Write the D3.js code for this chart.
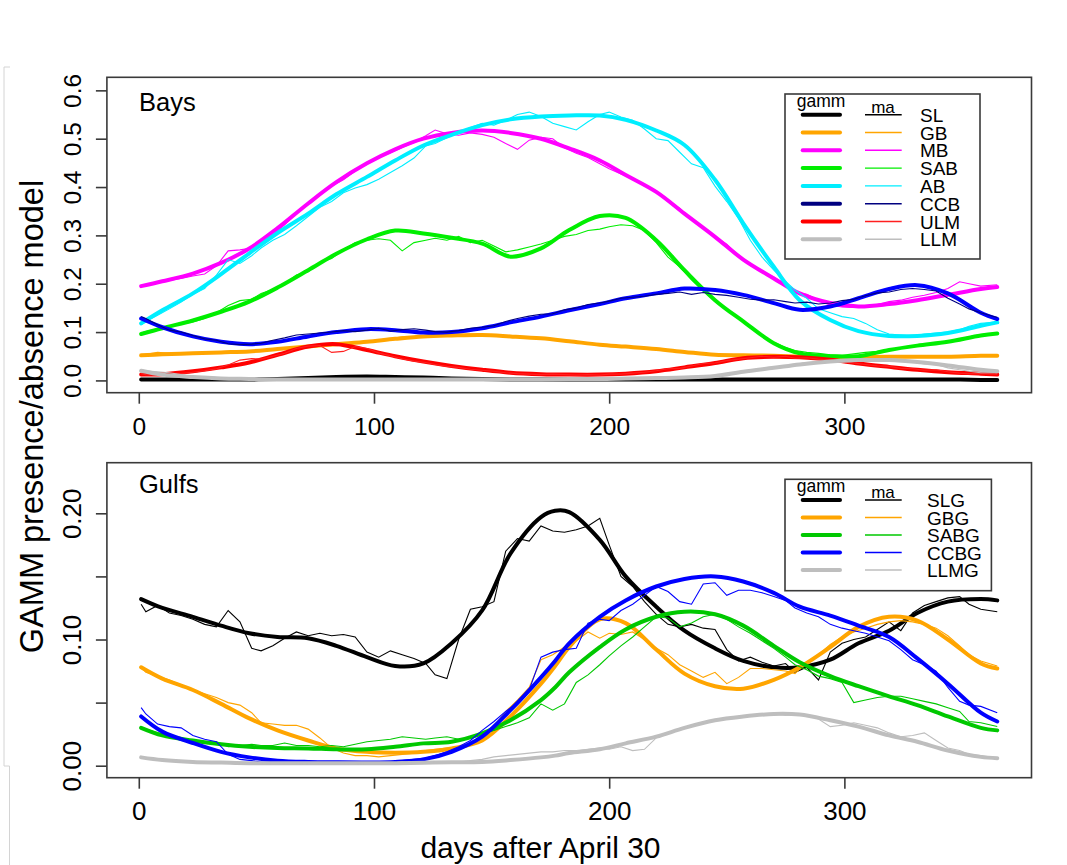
<!DOCTYPE html>
<html>
<head>
<meta charset="utf-8">
<script src="https://d3js.org/d3.v7.min.js"></script>
<style>
  body { margin: 0; background: #fff; }
  svg { display: block; }
  text { font-family: "Liberation Sans", Arial, sans-serif; fill: #000; }
</style>
</head>
<body>
<div id="chart"></div>
<script>
// ---- data: days after April 30 ----
var gDays = [1, 10, 23, 35, 47, 59, 72, 84, 97, 109, 121, 133, 146, 158, 171, 183, 196, 207, 220, 232, 245, 257, 270, 281, 294, 306, 319, 331, 344, 358, 365];
var gDaysG = [1, 10, 23, 35, 47, 59, 72, 84, 97, 109, 121, 133, 146, 158, 171, 177, 183, 196, 207, 220, 232, 245, 257, 270, 281, 294, 306, 319, 331, 344, 358, 365];
var maDays = [1, 3, 8, 13, 18, 23, 28, 33, 38, 43,
  48, 52, 57, 62, 67, 72, 77, 82, 87, 92,
  97, 102, 107, 112, 117, 122, 126, 131, 136, 141,
  146, 151, 156, 161, 166, 171, 176, 181, 186, 191,
  196, 200, 205, 210, 215, 220, 225, 230, 235, 240,
  245, 250, 255, 260, 265, 270, 275, 279, 284, 289,
  294, 299, 304, 309, 314, 319, 324, 329, 334, 339,
  344, 349, 353, 358, 365];

// Bays: gamm fits
var gSL  = [0.002, 0.002, 0.002, 0.002, 0.002, 0.003, 0.005, 0.007, 0.008, 0.007, 0.006, 0.004, 0.003, 0.002, 0.002, 0.002, 0.002, 0.002, 0.002, 0.002, 0.002, 0.002, 0.002, 0.002, 0.002, 0.002, 0.002, 0.002, 0.002, 0.001, 0.001];
var gGB  = [0.052, 0.054, 0.056, 0.058, 0.06, 0.065, 0.07, 0.075, 0.08, 0.086, 0.091, 0.093, 0.094, 0.091, 0.087, 0.081, 0.074, 0.07, 0.065, 0.059, 0.053, 0.052, 0.051, 0.049, 0.047, 0.048, 0.049, 0.049, 0.049, 0.051, 0.051];
var gMB  = [0.195, 0.205, 0.221, 0.243, 0.273, 0.315, 0.366, 0.41, 0.449, 0.478, 0.5, 0.512, 0.517, 0.512, 0.5, 0.48, 0.455, 0.425, 0.39, 0.345, 0.297, 0.25, 0.211, 0.18, 0.16, 0.153, 0.158, 0.166, 0.177, 0.189, 0.193];
var gSAB = [0.096, 0.108, 0.124, 0.142, 0.163, 0.192, 0.228, 0.262, 0.292, 0.31, 0.304, 0.295, 0.283, 0.256, 0.273, 0.311, 0.34, 0.336, 0.29, 0.228, 0.166, 0.122, 0.077, 0.056, 0.05, 0.05, 0.063, 0.072, 0.08, 0.093, 0.097];
var gAB  = [0.118, 0.145, 0.18, 0.22, 0.263, 0.305, 0.345, 0.385, 0.421, 0.455, 0.486, 0.508, 0.528, 0.54, 0.546, 0.548, 0.548, 0.539, 0.517, 0.487, 0.415, 0.325, 0.235, 0.166, 0.125, 0.102, 0.092, 0.092, 0.098, 0.113, 0.12];
var gCCB = [0.128, 0.11, 0.091, 0.08, 0.075, 0.08, 0.091, 0.1, 0.106, 0.104, 0.099, 0.1, 0.108, 0.12, 0.132, 0.145, 0.158, 0.17, 0.18, 0.19, 0.187, 0.177, 0.16, 0.146, 0.153, 0.17, 0.189, 0.197, 0.18, 0.14, 0.127];
var gULM = [0.012, 0.013, 0.019, 0.027, 0.037, 0.053, 0.07, 0.075, 0.063, 0.05, 0.039, 0.03, 0.022, 0.016, 0.013, 0.012, 0.012, 0.014, 0.019, 0.027, 0.036, 0.046, 0.049, 0.048, 0.043, 0.035, 0.028, 0.022, 0.017, 0.014, 0.012];
var gLLM = [0.02, 0.012, 0.007, 0.004, 0.003, 0.002, 0.002, 0.002, 0.002, 0.002, 0.002, 0.002, 0.002, 0.002, 0.002, 0.003, 0.003, 0.004, 0.005, 0.006, 0.009, 0.018, 0.026, 0.033, 0.039, 0.042, 0.042, 0.038, 0.031, 0.022, 0.019];

// Bays: moving averages
var mSL = [0.001, 0, 0.001, 0.001, 0, 0.001, 0, 0, 0.001, 0,
  0, 0.001, 0.002, 0.003, 0.002, 0.006, 0.007, 0.006, 0.01, 0.009,
  0.01, 0.009, 0.006, 0.006, 0.005, 0.005, 0.003, 0.003, 0.002, 0.002,
  0.001, 0.001, 0.002, 0.001, 0.001, 0.002, 0.001, 0.001, 0.002, 0.002,
  0.001, 0.001, 0.002, 0.002, 0.001, 0.002, 0.002, 0.003, 0.002, 0.002,
  0.003, 0.002, 0.002, 0.003, 0.002, 0.002, 0.001, 0.002, 0.002, 0.001,
  0.001, 0.001, 0.002, 0.001, 0.001, 0.001, 0.002, 0.001, 0.001, 0.001,
  0.001, 0.001, 0.001, 0.001, 0.001];
var mGB = [0.053, 0.054, 0.058, 0.056, 0.057, 0.056, 0.058, 0.057, 0.059, 0.06,
  0.061, 0.062, 0.064, 0.066, 0.069, 0.071, 0.072, 0.075, 0.077, 0.079,
  0.081, 0.084, 0.086, 0.09, 0.091, 0.092, 0.093, 0.092, 0.094, 0.096,
  0.093, 0.094, 0.091, 0.09, 0.089, 0.087, 0.085, 0.082, 0.078, 0.077,
  0.074, 0.073, 0.07, 0.068, 0.067, 0.065, 0.062, 0.06, 0.057, 0.055,
  0.053, 0.051, 0.05, 0.052, 0.05, 0.047, 0.046, 0.049, 0.047, 0.046,
  0.047, 0.048, 0.047, 0.048, 0.049, 0.05, 0.049, 0.049, 0.05, 0.049,
  0.05, 0.05, 0.051, 0.051, 0.051];
var mMB = [0.193, 0.198, 0.203, 0.207, 0.211, 0.216, 0.22, 0.237, 0.268, 0.27,
  0.274, 0.285, 0.301, 0.322, 0.345, 0.367, 0.384, 0.402, 0.415, 0.433,
  0.45, 0.461, 0.471, 0.482, 0.492, 0.506, 0.518, 0.51, 0.507, 0.512,
  0.509, 0.503, 0.49, 0.478, 0.497, 0.503, 0.5, 0.481, 0.47, 0.461,
  0.448, 0.438, 0.427, 0.418, 0.404, 0.392, 0.372, 0.356, 0.333, 0.316,
  0.297, 0.282, 0.258, 0.24, 0.225, 0.214, 0.199, 0.183, 0.178, 0.166,
  0.156, 0.152, 0.151, 0.154, 0.157, 0.163, 0.166, 0.172, 0.176, 0.182,
  0.19, 0.204, 0.2, 0.195, 0.198];
var mSAB = [0.098, 0.101, 0.107, 0.112, 0.118, 0.121, 0.128, 0.14, 0.155, 0.165,
  0.168, 0.18, 0.188, 0.2, 0.218, 0.225, 0.244, 0.252, 0.27, 0.285,
  0.29, 0.293, 0.29, 0.268, 0.285, 0.29, 0.294, 0.29, 0.298, 0.285,
  0.29, 0.278, 0.266, 0.27, 0.276, 0.282, 0.29, 0.298, 0.302, 0.31,
  0.313, 0.318, 0.322, 0.32, 0.31, 0.285, 0.255, 0.235, 0.208, 0.185,
  0.165, 0.145, 0.128, 0.112, 0.092, 0.079, 0.068, 0.062, 0.058, 0.056,
  0.053, 0.052, 0.055, 0.058, 0.06, 0.064, 0.066, 0.07, 0.073, 0.076,
  0.08, 0.085, 0.09, 0.095, 0.098];
var mAB = [0.115, 0.122, 0.135, 0.148, 0.162, 0.178, 0.19, 0.218, 0.25, 0.242,
  0.258, 0.274, 0.29, 0.302, 0.32, 0.339, 0.358, 0.37, 0.388, 0.398,
  0.405, 0.416, 0.43, 0.444, 0.46, 0.485, 0.49, 0.502, 0.512, 0.523,
  0.532, 0.528, 0.538, 0.55, 0.555, 0.546, 0.532, 0.525, 0.518, 0.535,
  0.55, 0.555, 0.545, 0.538, 0.52, 0.5, 0.496, 0.472, 0.448, 0.44,
  0.402, 0.37, 0.335, 0.29, 0.255, 0.228, 0.205, 0.187, 0.17, 0.148,
  0.14, 0.132, 0.128, 0.118, 0.105, 0.096, 0.094, 0.092, 0.096, 0.098,
  0.1, 0.105, 0.112, 0.118, 0.121];
var mCCB = [0.132, 0.128, 0.115, 0.104, 0.1, 0.093, 0.086, 0.083, 0.076, 0.074,
  0.075, 0.077, 0.083, 0.088, 0.094, 0.096, 0.098, 0.1, 0.103, 0.101,
  0.104, 0.108, 0.102, 0.105, 0.107, 0.104, 0.101, 0.1, 0.103, 0.108,
  0.11, 0.113, 0.122, 0.128, 0.133, 0.137, 0.138, 0.146, 0.15, 0.157,
  0.16, 0.164, 0.17, 0.172, 0.174, 0.178, 0.18, 0.183, 0.178, 0.182,
  0.178, 0.176, 0.172, 0.168, 0.166, 0.167, 0.163, 0.16, 0.162, 0.158,
  0.16, 0.165, 0.168, 0.175, 0.181, 0.183, 0.188, 0.19, 0.188, 0.185,
  0.17, 0.158, 0.148, 0.14, 0.13];
var mULM = [0.014, 0.012, 0.011, 0.013, 0.014, 0.017, 0.02, 0.024, 0.032, 0.042,
  0.045, 0.044, 0.05, 0.056, 0.066, 0.071, 0.072, 0.058, 0.06, 0.07,
  0.066, 0.057, 0.051, 0.045, 0.04, 0.037, 0.033, 0.029, 0.027, 0.023,
  0.021, 0.019, 0.016, 0.014, 0.013, 0.012, 0.013, 0.012, 0.011, 0.012,
  0.011, 0.013, 0.013, 0.015, 0.017, 0.02, 0.024, 0.025, 0.03, 0.035,
  0.036, 0.041, 0.044, 0.047, 0.05, 0.048, 0.05, 0.046, 0.047, 0.044,
  0.042, 0.04, 0.036, 0.033, 0.03, 0.029, 0.025, 0.024, 0.021, 0.022,
  0.018, 0.015, 0.014, 0.014, 0.013];
var mLLM = [0.022, 0.02, 0.018, 0.016, 0.012, 0.008, 0.007, 0.006, 0.005, 0.004,
  0.003, 0.003, 0.002, 0.002, 0.003, 0.002, 0.002, 0.003, 0.002, 0.002,
  0.002, 0.003, 0.002, 0.002, 0.002, 0.003, 0.002, 0.002, 0.002, 0.003,
  0.002, 0.003, 0.002, 0.003, 0.003, 0.002, 0.003, 0.003, 0.003, 0.004,
  0.004, 0.005, 0.004, 0.005, 0.006, 0.005, 0.006, 0.007, 0.007, 0.008,
  0.01, 0.012, 0.016, 0.02, 0.023, 0.027, 0.03, 0.033, 0.037, 0.038,
  0.04, 0.038, 0.039, 0.04, 0.041, 0.043, 0.04, 0.038, 0.034, 0.033,
  0.026, 0.022, 0.019, 0.016, 0.016];

// Gulfs: gamm fits
var gSLG  = [0.132, 0.125, 0.118, 0.111, 0.105, 0.102, 0.101, 0.095, 0.086, 0.079, 0.081, 0.097, 0.123, 0.168, 0.197, 0.202, 0.201, 0.179, 0.15, 0.126, 0.107, 0.093, 0.083, 0.078, 0.078, 0.084, 0.097, 0.107, 0.121, 0.13, 0.132, 0.131];
var gGBG  = [0.078, 0.069, 0.06, 0.049, 0.0375, 0.028, 0.02, 0.0137, 0.011, 0.0103, 0.011, 0.0137, 0.02, 0.039, 0.065, 0.079, 0.094, 0.116, 0.113, 0.092, 0.073, 0.063, 0.061, 0.068, 0.078, 0.094, 0.11, 0.118, 0.115, 0.1, 0.081, 0.077];
var gSABG = [0.03, 0.024, 0.02, 0.017, 0.015, 0.014, 0.0137, 0.013, 0.013, 0.015, 0.0177, 0.019, 0.0256, 0.036, 0.052, 0.062, 0.074, 0.094, 0.108, 0.118, 0.122, 0.12, 0.111, 0.095, 0.082, 0.071, 0.063, 0.055, 0.048, 0.039, 0.03, 0.028];
var gCCBG = [0.039, 0.027, 0.018, 0.011, 0.0066, 0.004, 0.003, 0.0027, 0.0026, 0.003, 0.005, 0.011, 0.023, 0.044, 0.07, 0.083, 0.097, 0.118, 0.131, 0.142, 0.148, 0.15, 0.146, 0.137, 0.126, 0.119, 0.111, 0.102, 0.085, 0.065, 0.042, 0.035];
var gLLMG = [0.0066, 0.0045, 0.003, 0.0025, 0.002, 0.002, 0.002, 0.002, 0.002, 0.002, 0.0024, 0.0027, 0.003, 0.0045, 0.0066, 0.008, 0.01, 0.013, 0.0177, 0.023, 0.03, 0.036, 0.039, 0.041, 0.0405, 0.036, 0.031, 0.024, 0.019, 0.012, 0.007, 0.006];

// Gulfs: moving averages
var mSLG = [0.128, 0.122, 0.127, 0.121, 0.119, 0.116, 0.112, 0.11, 0.123, 0.114,
  0.093, 0.091, 0.095, 0.101, 0.106, 0.103, 0.105, 0.103, 0.104, 0.102,
  0.09, 0.086, 0.091, 0.088, 0.085, 0.081, 0.072, 0.069, 0.1, 0.124,
  0.126, 0.13, 0.17, 0.18, 0.178, 0.19, 0.186, 0.185, 0.187, 0.19,
  0.196, 0.175, 0.15, 0.142, 0.13, 0.12, 0.112, 0.11, 0.112, 0.109,
  0.108, 0.092, 0.083, 0.086, 0.082, 0.079, 0.081, 0.074, 0.078, 0.068,
  0.09, 0.097, 0.1, 0.102, 0.108, 0.114, 0.107, 0.121, 0.127, 0.13,
  0.133, 0.134, 0.128, 0.124, 0.122];
var mGBG = [0.078, 0.074, 0.071, 0.068, 0.064, 0.06, 0.057, 0.054, 0.05, 0.048,
  0.042, 0.034, 0.033, 0.032, 0.032, 0.029, 0.022, 0.014, 0.01, 0.008,
  0.008, 0.007, 0.008, 0.009, 0.01, 0.012, 0.013, 0.014, 0.015, 0.017,
  0.023, 0.031, 0.043, 0.052, 0.062, 0.084, 0.088, 0.094, 0.099, 0.106,
  0.101, 0.105, 0.104, 0.106, 0.1, 0.093, 0.088, 0.08, 0.075, 0.07,
  0.074, 0.065, 0.07, 0.077, 0.077, 0.076, 0.075, 0.073, 0.082, 0.088,
  0.096, 0.102, 0.106, 0.109, 0.112, 0.114, 0.115, 0.114, 0.112, 0.109,
  0.103, 0.095, 0.088, 0.083, 0.079];
var mSABG = [0.03, 0.029, 0.026, 0.024, 0.02, 0.019, 0.018, 0.019, 0.015, 0.016,
  0.017, 0.016, 0.016, 0.018, 0.016, 0.016, 0.015, 0.016, 0.015, 0.017,
  0.019, 0.02, 0.021, 0.023, 0.022, 0.021, 0.022, 0.023, 0.021, 0.022,
  0.026, 0.028, 0.031, 0.034, 0.038, 0.049, 0.044, 0.049, 0.066, 0.072,
  0.08, 0.087, 0.095, 0.102, 0.11, 0.118, 0.117, 0.11, 0.113, 0.118,
  0.12, 0.116, 0.11, 0.105, 0.099, 0.093, 0.086, 0.08, 0.076, 0.071,
  0.069, 0.066, 0.05, 0.052, 0.054, 0.055, 0.055, 0.053, 0.051, 0.049,
  0.046, 0.043, 0.035, 0.034, 0.031];
var mCCBG = [0.046, 0.041, 0.033, 0.031, 0.03, 0.024, 0.021, 0.019, 0.009, 0.005,
  0.004, 0.003, 0.003, 0.003, 0.002, 0.002, 0.003, 0.003, 0.003, 0.002,
  0.003, 0.003, 0.003, 0.004, 0.005, 0.006, 0.008, 0.011, 0.015, 0.02,
  0.028, 0.035, 0.043, 0.05, 0.06, 0.086, 0.09, 0.092, 0.093, 0.113,
  0.116, 0.115, 0.123, 0.128, 0.135, 0.142, 0.138, 0.13, 0.128, 0.144,
  0.145, 0.135, 0.139, 0.139, 0.137, 0.134, 0.131, 0.125, 0.121, 0.118,
  0.112, 0.109, 0.107, 0.105, 0.102, 0.099, 0.092, 0.084, 0.08, 0.075,
  0.062, 0.051, 0.048, 0.047, 0.042];
var mLLMG = [0.006, 0.006, 0.005, 0.004, 0.003, 0.003, 0.002, 0.002, 0.002, 0.001,
  0.002, 0.002, 0.001, 0.002, 0.002, 0.001, 0.002, 0.002, 0.002, 0.001,
  0.002, 0.002, 0.002, 0.003, 0.002, 0.002, 0.003, 0.003, 0.003, 0.004,
  0.005, 0.007, 0.008, 0.009, 0.01, 0.011, 0.011, 0.012, 0.012, 0.013,
  0.014, 0.013, 0.015, 0.012, 0.013, 0.022, 0.026, 0.029, 0.032, 0.034,
  0.036, 0.038, 0.038, 0.04, 0.041, 0.041, 0.04, 0.041, 0.04, 0.037,
  0.031, 0.032, 0.034, 0.032, 0.03, 0.026, 0.023, 0.024, 0.026, 0.02,
  0.014, 0.012, 0.009, 0.008, 0.006];

var xTicks = [0, 100, 200, 300];
var bayTicks = [0, 0.1, 0.2, 0.3, 0.4, 0.5, 0.6];
var gulfTicks = [0, 0.05, 0.1, 0.15, 0.2];
var gulfLabels = [0, 0.1, 0.2];

var baySeries = [
  { name: "SL",  gamm: gSL,  ma: mSL,  col: "#000000", maCol: "#000000", key: "#000000" },
  { name: "GB",  gamm: gGB,  ma: mGB,  col: "#ffa500", maCol: "#ffa500", key: "#ffa500" },
  { name: "MB",  gamm: gMB,  ma: mMB,  col: "#ff00ff", maCol: "#ff00ff", key: "#ff00ff" },
  { name: "SAB", gamm: gSAB, ma: mSAB, col: "#00ee00", maCol: "#00ee00", key: "#00ee00" },
  { name: "AB",  gamm: gAB,  ma: mAB,  col: "#00eeff", maCol: "#00eeff", key: "#00eeff" },
  { name: "CCB", gamm: gCCB, ma: mCCB, col: "#0000ff", maCol: "#000080", key: "#000080" },
  { name: "ULM", gamm: gULM, ma: mULM, col: "#ff0000", maCol: "#ff2020", key: "#ff0000" },
  { name: "LLM", gamm: gLLM, ma: mLLM, col: "#bebebe", maCol: "#bebebe", key: "#bebebe" }
];
var gulfSeries = [
  { name: "SLG",  gamm: gSLG,  ma: mSLG,  col: "#000000", maCol: "#000000", key: "#000000" },
  { name: "GBG",  gamm: gGBG,  ma: mGBG,  col: "#ffa500", maCol: "#ffa500", key: "#ffa500" },
  { name: "SABG", gamm: gSABG, ma: mSABG, col: "#00c800", maCol: "#00c800", key: "#00c800" },
  { name: "CCBG", gamm: gCCBG, ma: mCCBG, col: "#0000ff", maCol: "#0000ff", key: "#0000ff" },
  { name: "LLMG", gamm: gLLMG, ma: mLLMG, col: "#bebebe", maCol: "#bebebe", key: "#bebebe" }
];

var svg = d3.select("#chart").append("svg")
    .attr("width", 1067)
    .attr("height", 865);

// faint border left over from the pasted figure
svg.append("path")
    .attr("d", "M10,67 H4 V766 H9.5 V865")
    .attr("fill", "none")
    .attr("stroke", "#d4d4d4")
    .attr("stroke-width", 1);

var x = d3.scaleLinear().domain([-13.56, 379.56]).range([106.9, 1031.5]);

function drawPanel(p) {
  var y = d3.scaleLinear().domain(p.yDomain).range([p.bottom, p.top]);
  var g = svg.append("g");

  var gline = d3.line()
      .x(function(d) { return x(d[0]); })
      .y(function(d) { return y(d[1]); })
      .curve(d3.curveCatmullRom.alpha(0.5));
  var mline = d3.line()
      .x(function(d) { return x(d[0]); })
      .y(function(d) { return y(d[1]); });

  p.series.forEach(function(s) {
    g.append("path")
        .datum(d3.zip(p.gDays, s.gamm))
        .attr("fill", "none")
        .attr("stroke", s.col)
        .attr("stroke-width", 4)
        .attr("stroke-linejoin", "round")
        .attr("stroke-linecap", "round")
        .attr("d", gline);
    g.append("path")
        .datum(d3.zip(maDays, s.ma))
        .attr("fill", "none")
        .attr("stroke", s.maCol)
        .attr("stroke-width", 1.1)
        .attr("d", mline);
  });

  // frame
  g.append("rect")
      .attr("x", 106.9).attr("y", p.top)
      .attr("width", 1031.5 - 106.9).attr("height", p.bottom - p.top)
      .attr("fill", "none").attr("stroke", "#3a3a3a").attr("stroke-width", 1.6);

  // x axis
  var xa = g.append("g")
      .attr("transform", "translate(0," + p.bottom + ")")
      .call(d3.axisBottom(x).tickValues(xTicks).tickSize(11).tickFormat(d3.format("d")));
  xa.select(".domain").remove();
  xa.selectAll(".tick line").attr("stroke", "#3a3a3a").attr("stroke-width", 1.6);
  xa.selectAll(".tick text")
      .attr("y", p.xLabelY - p.bottom).attr("dy", 0)
      .style("font-size", p.tickFont + "px")
      .style("font-family", "'Liberation Sans', Arial, sans-serif");

  // y axis, labels parallel to the axis
  var ya = g.append("g")
      .attr("transform", "translate(106.9,0)")
      .call(d3.axisLeft(y).tickValues(p.yTicks).tickSize(11)
        .tickFormat(function(d) {
          return p.yLabels.indexOf(d) >= 0 ? d3.format(p.yFmt)(d) : "";
        }));
  ya.select(".domain").remove();
  ya.selectAll(".tick line").attr("stroke", "#3a3a3a").attr("stroke-width", 1.6);
  ya.selectAll(".tick text")
      .attr("x", null).attr("dy", null)
      .attr("text-anchor", "middle")
      .attr("transform", "translate(-26,0) rotate(-90)")
      .style("font-size", p.tickFont + "px")
      .style("font-family", "'Liberation Sans', Arial, sans-serif");

  // panel label
  g.append("text")
      .attr("x", 139).attr("y", p.labelY)
      .style("font-size", "25.5px")
      .text(p.label);

  // legend
  var L = p.legend;
  var lg = g.append("g");
  lg.append("rect")
      .attr("x", L.x).attr("y", L.y).attr("width", L.w).attr("height", L.h)
      .attr("fill", "#fff").attr("stroke", "#3a3a3a").attr("stroke-width", 1.6);
  lg.append("text").attr("x", 821).attr("y", L.y + 12.7)
      .attr("text-anchor", "middle").style("font-size", "17.5px").text("gamm");
  lg.append("text").attr("x", 883).attr("y", L.y + 18.5)
      .attr("text-anchor", "middle").style("font-size", "17px").text("ma");
  p.series.forEach(function(s, i) {
    var ry = L.row0 + i * L.step;
    lg.append("line").attr("x1", 802.7).attr("x2", 840).attr("y1", ry).attr("y2", ry)
        .attr("stroke", s.key).attr("stroke-width", 4).attr("stroke-linecap", "round");
    lg.append("line").attr("x1", 865).attr("x2", 901.7).attr("y1", ry).attr("y2", ry)
        .attr("stroke", s.maCol).attr("stroke-width", 1.4);
    lg.append("text").attr("x", L.textX).attr("y", ry + 7)
        .style("font-size", "19px")
        .text(s.name);
  });
}

drawPanel({
  top: 77.3, bottom: 392.7, yDomain: [-0.0254, 0.627],
  yTicks: bayTicks, yLabels: bayTicks, yFmt: ".1f",
  xLabelY: 435, tickFont: 24.5, label: "Bays", labelY: 110.7,
  gDays: gDays, series: baySeries,
  legend: { x: 785, y: 94, w: 195, h: 165, row0: 114.7, step: 17.8, textX: 920 }
});

drawPanel({
  top: 462.7, bottom: 777.7, yDomain: [-0.0095, 0.2401],
  yTicks: gulfTicks, yLabels: gulfLabels, yFmt: ".2f",
  xLabelY: 820, tickFont: 26, label: "Gulfs", labelY: 493.3,
  gDays: gDaysG, series: gulfSeries,
  legend: { x: 785, y: 479.3, w: 206.4, h: 111.4, row0: 500, step: 17.5, textX: 927 }
});

// axis titles
svg.append("text")
    .attr("transform", "translate(43,416.5) rotate(-90)")
    .attr("text-anchor", "middle")
    .style("font-size", "32.5px")
    .text("GAMM presence/absence model");

svg.append("text")
    .attr("x", 540.5).attr("y", 858)
    .attr("text-anchor", "middle")
    .style("font-size", "30px")
    .text("days after April 30");
</script>
</body>
</html>
